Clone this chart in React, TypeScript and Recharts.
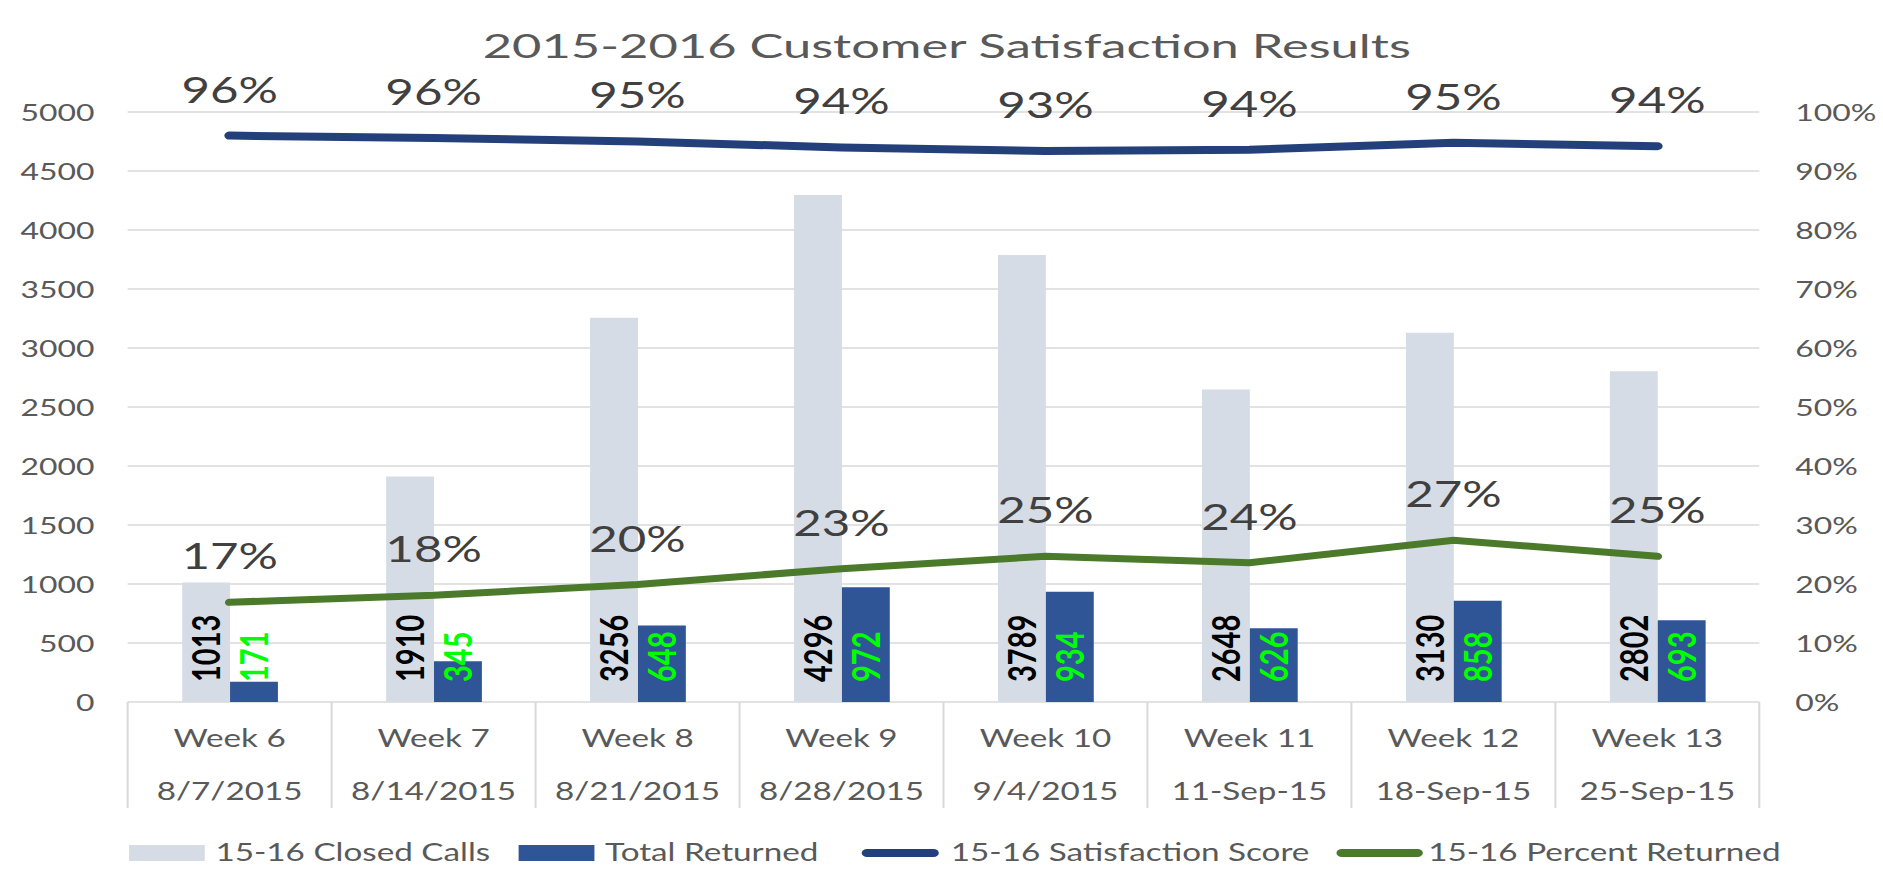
import {
  Bar,
  CartesianGrid,
  ComposedChart,
  LabelList,
  Line,
  XAxis,
  YAxis,
} from "recharts";

const WEEKS = ["Week 6", "Week 7", "Week 8", "Week 9", "Week 10", "Week 11", "Week 12", "Week 13"];
const DATES = ["8/7/2015", "8/14/2015", "8/21/2015", "8/28/2015", "9/4/2015", "11-Sep-15", "18-Sep-15", "25-Sep-15"];
const CLOSED_CALLS = [1013, 1910, 3256, 4296, 3789, 2648, 3130, 2802];
const TOTAL_RETURNED = [171, 345, 648, 972, 934, 626, 858, 693];
const SATISFACTION = [0.96, 0.956, 0.95, 0.94, 0.934, 0.936, 0.948, 0.942];
const PERCENT_RETURNED = [0.169, 0.181, 0.199, 0.226, 0.247, 0.236, 0.274, 0.247];
const LEFT_TICKS = [0, 500, 1000, 1500, 2000, 2500, 3000, 3500, 4000, 4500, 5000];
const RIGHT_TICKS = [0, 0.1, 0.2, 0.3, 0.4, 0.5, 0.6, 0.7, 0.8, 0.9, 1];

const data = WEEKS.map((week, i) => ({
  week,
  date: DATES[i],
  closed: CLOSED_CALLS[i],
  returned: TOTAL_RETURNED[i],
  satisfaction: SATISFACTION[i],
  percentReturned: PERCENT_RETURNED[i],
}));

// the reference is a horizontally stretched Excel export, so draw narrow and stretch
const W = 1416;
const H = 879;
const STRETCH = 1883 / W;
const LEFT_W = 96;
const RIGHT_W = 93;
const BAND = (W - LEFT_W - RIGHT_W) / WEEKS.length;

const GRAY = "#595959";
const CLOSED_COLOR = "#D6DCE5";
const RETURNED_COLOR = "#2F5597";
const SAT_COLOR = "#24407A";
const PCT_COLOR = "#4B7A2B";

const pct = (v: number) => `${Math.round(v * 100)}%`;

const WeekTick = (props: any) => {
  const { x, y, index } = props;
  const last = index === WEEKS.length - 1;
  return (
    <g>
      <line x1={x - BAND / 2} x2={x - BAND / 2} y1={y} y2={y + 106} stroke="#d9d9d9" strokeWidth={1.5} />
      {last && (
        <line x1={x + BAND / 2} x2={x + BAND / 2} y1={y} y2={y + 106} stroke="#d9d9d9" strokeWidth={1.5} />
      )}
      <text x={x} y={y + 45} textAnchor="middle" fill={GRAY} fontSize={25}>
        {WEEKS[index]}
      </text>
      <text x={x} y={y + 98} textAnchor="middle" fill={GRAY} fontSize={25}>
        {DATES[index]}
      </text>
    </g>
  );
};

const barLabel = (color: string) => (props: any) => {
  const { x, y, width, height, value } = props;
  const cx = Number(x) + Number(width) / 2;
  const by = Number(y) + Number(height) - 20;
  return (
    <text
      transform={`translate(${cx},${by}) rotate(-90)`}
      dy="0.36em"
      textAnchor="start"
      fill={color}
      fontSize={29}
      fontWeight={700}
    >
      {value}
    </text>
  );
};

const pointLabel = (props: any) => {
  const { x, y, value } = props;
  return (
    <text x={x} y={Number(y) - 33} textAnchor="middle" fill="#404040" fontSize={37}>
      {pct(Number(value))}
    </text>
  );
};

const Legend = () => (
  <svg width={W} height={H} style={{ position: "absolute", left: 0, top: 0, pointerEvents: "none" }}>
    <text x={712} y={58} textAnchor="middle" fill={GRAY} fontSize={33} textLength={698} lengthAdjust="spacingAndGlyphs">
      2015-2016 Customer Satisfaction Results
    </text>
    <rect x={97} y={845} width={57} height={16} fill={CLOSED_COLOR} />
    <text x={162} y={861} fill={GRAY} fontSize={25}>15-16 Closed Calls</text>
    <rect x={390} y={845} width={57} height={16} fill={RETURNED_COLOR} />
    <text x={455} y={861} fill={GRAY} fontSize={25}>Total Returned</text>
    <line x1={652} x2={702} y1={853} y2={853} stroke={SAT_COLOR} strokeWidth={8} strokeLinecap="round" />
    <text x={715} y={861} fill={GRAY} fontSize={25}>15-16 Satisfaction Score</text>
    <line x1={1009} x2={1066} y1={853} y2={853} stroke={PCT_COLOR} strokeWidth={8} strokeLinecap="round" />
    <text x={1074} y={861} fill={GRAY} fontSize={25}>15-16 Percent Returned</text>
  </svg>
);

export default function App() {
  return (
    <div
      style={{
        position: "absolute",
        left: 0,
        top: 0,
        width: W,
        height: H,
        background: "#fff",
        fontFamily: "Lato, 'Open Sans', sans-serif",
        transform: `scaleX(${STRETCH})`,
        transformOrigin: "0 0",
      }}
    >
      <ComposedChart
        width={W}
        height={H}
        data={data}
        barGap={0}
        margin={{ top: 112, right: 0, left: 0, bottom: 67 }}
      >
        <CartesianGrid yAxisId="left" vertical={false} stroke="#d9d9d9" strokeWidth={1.5} />
        <XAxis
          dataKey="week"
          interval={0}
          height={110}
          axisLine={false}
          tickLine={false}
          tickSize={0}
          tickMargin={0}
          tick={<WeekTick />}
        />
        <YAxis
          yAxisId="left"
          width={LEFT_W}
          domain={[0, 5000]}
          ticks={LEFT_TICKS}
          axisLine={false}
          tickLine={false}
          tickSize={0}
          tickMargin={25}
          tick={{ fill: GRAY, fontSize: 24 }}
        />
        <YAxis
          yAxisId="right"
          orientation="right"
          width={RIGHT_W}
          domain={[0, 1]}
          ticks={RIGHT_TICKS}
          tickFormatter={pct}
          axisLine={false}
          tickLine={false}
          tickSize={0}
          tickMargin={27}
          tick={{ fill: GRAY, fontSize: 24, textAnchor: "start" }}
        />
        <Bar yAxisId="left" dataKey="closed" fill={CLOSED_COLOR} barSize={36} isAnimationActive={false}>
          <LabelList dataKey="closed" content={barLabel("#000000")} />
        </Bar>
        <Bar yAxisId="left" dataKey="returned" fill={RETURNED_COLOR} barSize={36} isAnimationActive={false}>
          <LabelList dataKey="returned" content={barLabel("#00FF00")} />
        </Bar>
        <Line
          yAxisId="right"
          dataKey="satisfaction"
          stroke={SAT_COLOR}
          strokeWidth={8}
          strokeLinecap="round"
          dot={false}
          isAnimationActive={false}
        >
          <LabelList dataKey="satisfaction" content={pointLabel} />
        </Line>
        <Line
          yAxisId="right"
          dataKey="percentReturned"
          stroke={PCT_COLOR}
          strokeWidth={7}
          strokeLinecap="round"
          dot={false}
          isAnimationActive={false}
        >
          <LabelList dataKey="percentReturned" content={pointLabel} />
        </Line>
      </ComposedChart>
      <Legend />
    </div>
  );
}
